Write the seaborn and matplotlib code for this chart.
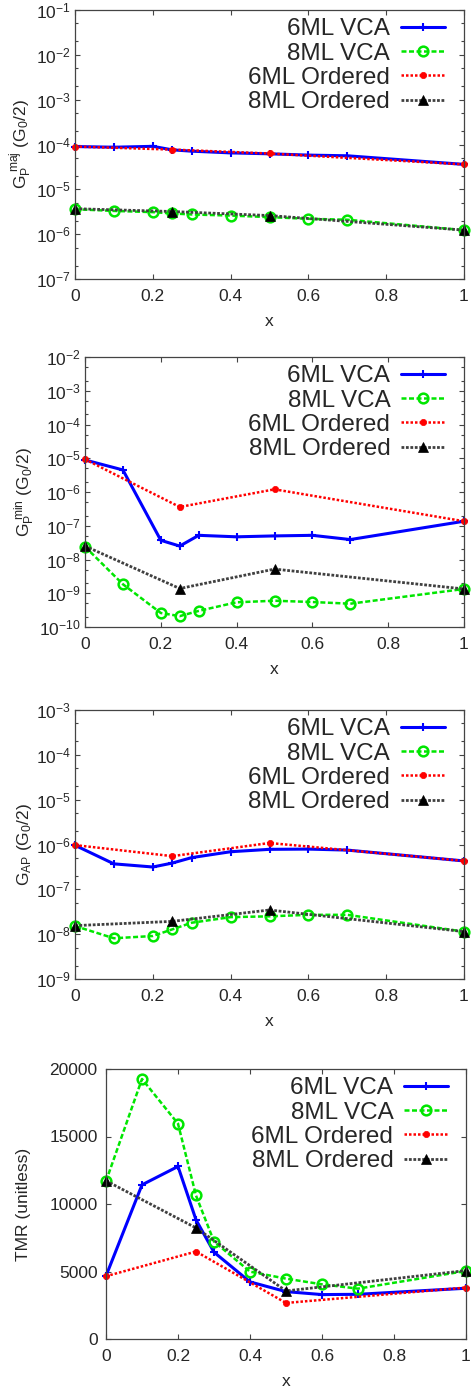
import pandas as pd
import seaborn as sns
import matplotlib.pyplot as plt
from matplotlib.ticker import LogLocator, NullFormatter, FixedLocator

# --- data ---
x_vca = [0, 0.1, 0.2, 0.25, 0.3, 0.4, 0.5, 0.6, 0.7, 1.0]
x_ord = [0, 0.25, 0.5, 1.0]

gp_maj_6vca = [9.0e-5, 8.7e-5, 9.1e-5, 7.6e-5, 7.1e-5, 6.5e-5, 6.2e-5, 5.8e-5, 5.6e-5, 3.6e-5]
gp_maj_8vca = [3.6e-6, 3.3e-6, 3.1e-6, 2.9e-6, 2.75e-6, 2.6e-6, 2.4e-6, 2.2e-6, 2.1e-6, 1.23e-6]
gp_maj_6ord = [9.0e-5, 7.7e-5, 6.3e-5, 3.6e-5]
gp_maj_8ord = [3.7e-6, 3.2e-6, 2.6e-6, 1.23e-6]

gp_min_6vca = [8.9e-6, 4.5e-6, 3.7e-8, 2.5e-8, 5.2e-8, 4.7e-8, 5.0e-8, 5.2e-8, 3.9e-8, 1.36e-7]
gp_min_8vca = [2.4e-8, 1.85e-9, 2.6e-10, 2.1e-10, 3.0e-10, 5.4e-10, 6.0e-10, 5.5e-10, 4.9e-10, 1.34e-9]
gp_min_6ord = [9.3e-6, 3.6e-7, 1.2e-6, 1.36e-7]
gp_min_8ord = [2.5e-8, 1.38e-9, 5.2e-9, 1.34e-9]

gap_6vca = [9.6e-7, 3.7e-7, 3.15e-7, 3.85e-7, 5.1e-7, 6.9e-7, 7.8e-7, 7.9e-7, 7.5e-7, 4.3e-7]
gap_8vca = [1.52e-8, 8.1e-9, 9.1e-9, 1.28e-8, 1.8e-8, 2.4e-8, 2.5e-8, 2.7e-8, 2.7e-8, 1.14e-8]
gap_6ord = [9.7e-7, 5.5e-7, 1.08e-6, 4.3e-7]
gap_8ord = [1.55e-8, 1.93e-8, 3.46e-8, 1.14e-8]

tmr_6vca = [4670, 11420, 12780, 8830, 6430, 4230, 3510, 3290, 3310, 3760]
tmr_8vca = [11690, 19260, 15950, 10630, 7220, 4990, 4470, 4050, 3730, 5040]
tmr_6ord = [4650, 6480, 2670, 3810]
tmr_8ord = [11720, 8230, 3560, 5070]

series_names = ['6ML VCA', '8ML VCA', '6ML Ordered', '8ML Ordered']
x_ticks = [0, 0.2, 0.4, 0.6, 0.8, 1.0]
x_ticklabels = ['0', '0.2', '0.4', '0.6', '0.8', '1']
tmr_ticks = [0, 5000, 10000, 15000, 20000]

sns.set_style("ticks")
plt.rcParams['font.family'] = ['Liberation Sans', 'DejaVu Sans']
plt.rcParams['mathtext.fontset'] = 'custom'
plt.rcParams['mathtext.rm'] = 'Liberation Sans'
plt.rcParams['mathtext.it'] = 'Liberation Sans:italic'
plt.rcParams['mathtext.bf'] = 'Liberation Sans:bold'
plt.rcParams['axes.unicode_minus'] = False

# stile di ogni serie (stile gnuplot)
stili = {
    '6ML VCA': dict(color='#0000ff', ls='-', lw=2.2, marker='+', ms=6, mew=1.5,
                    mec='#0000ff'),
    '8ML VCA': dict(color='#00e600', ls=(0, (2, 1)), lw=1.8, marker='o', ms=7, mew=1.8,
                    mec='#00e600', mfc='none'),
    '6ML Ordered': dict(color='#ff0000', ls=(0, (1, 0.8)), lw=1.8, marker='o', ms=4.5,
                        mew=0.5, mec='#ff0000'),
    '8ML Ordered': dict(color='#404040', ls=(0, (1, 0.6)), lw=2.0, marker='^', ms=7,
                        mew=0.5, mec='black', mfc='black'),
}

W, H = 471, 1393
fig = plt.figure(figsize=(W / 100, H / 100), dpi=100)


def rect(left, right, top, bottom):
    return [left / W, 1 - bottom / H, (right - left) / W, (bottom - top) / H]


pannelli = [
    dict(rect=rect(75, 464, 10, 279), data=[gp_maj_6vca, gp_maj_8vca, gp_maj_6ord, gp_maj_8ord],
         log=True, ylim=(1e-7, 1e-1), ylabel=r'$\mathregular{G_P^{\ maj}\ (G_0/2)}$'),
    dict(rect=rect(85, 464, 357, 627), data=[gp_min_6vca, gp_min_8vca, gp_min_6ord, gp_min_8ord],
         log=True, ylim=(1e-10, 1e-2), ylabel=r'$\mathregular{G_P^{\ min}\ (G_0/2)}$'),
    dict(rect=rect(75, 464, 710, 979), data=[gap_6vca, gap_8vca, gap_6ord, gap_8ord],
         log=True, ylim=(1e-9, 1e-3), ylabel=r'$\mathregular{G_{AP}\ (G_0/2)}$'),
    dict(rect=rect(106, 466, 1069, 1339), data=[tmr_6vca, tmr_8vca, tmr_6ord, tmr_8ord],
         log=False, ylim=(0, 20000), ylabel='TMR (unitless)'),
]

for p in pannelli:
    ax = fig.add_axes(p['rect'])
    for nome, ys in zip(series_names, p['data']):
        xs = x_vca if 'VCA' in nome else x_ord
        df = pd.DataFrame({'x': xs, 'y': ys})
        sns.lineplot(data=df, x='x', y='y', ax=ax, label=nome, clip_on=False, **stili[nome])

    ax.set_xlim(0, 1)
    if p['log']:
        ax.set_yscale('log')
        ax.yaxis.set_major_locator(LogLocator(base=10, numticks=20))
        ax.yaxis.set_minor_locator(LogLocator(base=10, subs=(2, 5), numticks=20))
        ax.yaxis.set_minor_formatter(NullFormatter())
        ypad, ylpad = 3, 1.5
    else:
        ax.yaxis.set_major_locator(FixedLocator(tmr_ticks))
        ax.minorticks_off()
        ypad, ylpad = 6, 13
    ax.set_ylim(*p['ylim'])
    ax.set_xticks(x_ticks)
    ax.set_xticklabels(x_ticklabels)

    ax.tick_params(which='both', direction='in', top=True, right=True,
                   labelsize=12.5, color='#444444')
    ax.tick_params(which='major', length=3.5, width=0.8)
    ax.tick_params(which='minor', length=2, width=0.8)
    ax.tick_params(axis='x', which='major', pad=7.5)
    ax.tick_params(axis='y', which='major', pad=ypad)
    for s in ax.spines.values():
        s.set_color('#444444')
        s.set_linewidth(0.9)

    ax.set_xlabel('x', fontsize=12.5, labelpad=7)
    ax.set_ylabel(p['ylabel'], fontsize=12.5, labelpad=ylpad)

    ax.legend(loc='upper right', bbox_to_anchor=(0.95, 0.97), frameon=False,
              markerfirst=False, fontsize=17.5, handlelength=1.8, handletextpad=0.45,
              labelspacing=0.1, borderpad=0, borderaxespad=0)

plt.savefig('out.png', dpi=100)
plt.close()
